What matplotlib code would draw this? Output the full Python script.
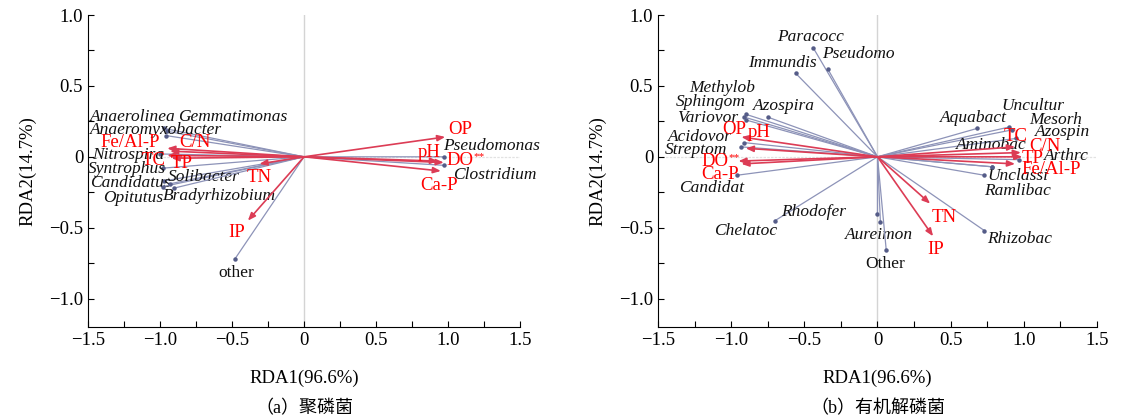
import matplotlib
matplotlib.use("Agg")
import matplotlib.pyplot as plt
from matplotlib.ticker import MultipleLocator

# ---------------- data: panel (a) ----------------
a_sp_names = ["Anaerolinea", "Gemmatimonas", "Anaeromyxobacter", "Nitrospira", "Syntrophus",
              "Candidatus", "Opitutus", "Solibacter", "Bradyrhizobium", "Pseudomonas",
              "Clostridium", "other"]
a_sp_x = [-0.97, -0.95, -0.96, -1.00, -0.98, -0.97, -0.98, -0.93, -0.90, 0.97, 0.97, -0.48]
a_sp_y = [0.20, 0.18, 0.15, 0.02, -0.08, -0.17, -0.21, -0.19, -0.22, 0.00, -0.06, -0.72]
a_sp_lx = [-1.486, -0.875, -1.486, -1.472, -1.50, -1.486, -1.396, -0.944, -0.98, 0.965, 1.035, -0.597]
a_sp_ly = [0.284, 0.284, 0.186, 0.010, -0.088, -0.186, -0.291, -0.144, -0.277, 0.074, -0.130, -0.820]

a_env_names = ["OP", "pH", "DO", "Ca-P", "Fe/Al-P", "C/N", "TC", "TP", "TN", "IP"]
a_env_x = [0.98, 0.93, 0.97, 0.95, -0.95, -0.93, -0.95, -0.92, -0.31, -0.39]
a_env_y = [0.14, -0.03, -0.04, -0.10, 0.06, 0.04, 0.01, -0.01, -0.05, -0.45]
a_env_lx = [1.00, 0.79, 0.99, 0.806, -1.417, -0.868, -1.13, -0.93, -0.396, -0.528]
a_env_ly = [0.193, 0.030, -0.025, -0.200, 0.102, 0.102, -0.025, -0.046, -0.144, -0.535]

# ---------------- data: panel (b) ----------------
b_sp_names = ["Paracocc", "Pseudomo", "Immundis", "Methylob", "Sphingom", "Azospira", "Variovor",
              "Acidovor", "Streptom", "Candidat", "Chelatoc", "Rhodofer", "Aureimon", "Other",
              "Rhizobac", "Aquabact", "Uncultur", "Mesorh", "Azospin", "Aminobac", "Arthrc",
              "Unclassi", "Ramlibac"]
b_sp_x = [-0.44, -0.34, -0.56, -0.90, -0.91, -0.75, -0.90, -0.91, -0.93, -0.96, -0.70, 0.00,
          0.02, 0.06, 0.73, 0.68, 0.90, 0.92, 0.95, 0.78, 0.97, 0.73, 0.78]
b_sp_y = [0.77, 0.62, 0.59, 0.30, 0.28, 0.28, 0.26, 0.10, 0.07, -0.13, -0.45, -0.40,
          -0.46, -0.66, -0.52, 0.20, 0.21, 0.19, 0.13, -0.07, -0.02, -0.13, -0.07]
b_sp_lx = [-0.683, -0.376, -0.882, -1.285, -1.38, -0.854, -1.367, -1.435, -1.456, -1.353, -1.114,
           -0.656, -0.219, -0.082, 0.752, 0.424, 0.848, 1.039, 1.073, 0.533, 1.141, 0.752, 0.731]
b_sp_ly = [0.846, 0.726, 0.663, 0.488, 0.389, 0.361, 0.277, 0.137, 0.046, -0.221, -0.523,
           -0.390, -0.551, -0.755, -0.579, 0.277, 0.361, 0.263, 0.172, 0.081, 0.004, -0.137, -0.242]

b_env_names = ["OP", "pH", "DO", "Ca-P", "TN", "IP", "TC", "C/N", "TP", "Fe/Al-P"]
b_env_x = [-0.93, -0.90, -0.95, -0.93, 0.36, 0.38, 0.94, 0.98, 0.99, 0.94]
b_env_y = [0.14, 0.06, -0.03, -0.05, -0.33, -0.56, 0.07, 0.03, 0.00, -0.05]
b_env_lx = [-1.06, -0.889, -1.203, -1.203, 0.369, 0.342, 0.861, 1.039, 0.984, 0.984]
b_env_ly = [0.193, 0.172, -0.032, -0.123, -0.425, -0.655, 0.144, 0.074, -0.011, -0.088]

xticks = [-1.5, -1.0, -0.5, 0, 0.5, 1.0, 1.5]
xtick_labels = ["\u22121.5", "\u22121.0", "\u22120.5", "0", "0.5", "1.0", "1.5"]
yticks = [-1.0, -0.5, 0, 0.5, 1.0]
ytick_labels = ["\u22121.0", "\u22120.5", "0", "0.5", "1.0"]
xlabel = "RDA1(96.6%)"
ylabel = "RDA2(14.7%)"
captions = ["（a）聚磷菌", "（b）有机解磷菌"]

SERIF = ["Liberation Serif", "DejaVu Serif"]
plt.rcParams["font.family"] = SERIF

fig = plt.figure(figsize=(11.39, 4.19), dpi=100)
axA = fig.add_axes([0.0773, 0.2196, 0.3793, 0.7446])
axB = fig.add_axes([0.5777, 0.2196, 0.3854, 0.7446])

SP_COLOR = "#8d93b8"
SP_HEAD = "#555c88"
ENV_COLOR = "#dc3c55"
SP_FS = 12.5
ENV_FS = 13.5
TICK_FS = 13.5


def draw(ax, spn, spx, spy, splx, sply, en, ex, ey, elx, ely):
    ax.set_xlim(-1.5, 1.5)
    ax.set_ylim(-1.2, 1.0)
    ax.axvline(0, color="#d4d4d4", lw=1.0, zorder=0)
    ax.axhline(0, color="#e2e2e2", lw=0.9, ls=(0, (2, 1)), zorder=0)
    for n, x, y, lx, ly in zip(spn, spx, spy, splx, sply):
        ax.annotate("", xy=(x, y), xytext=(0, 0),
                    arrowprops=dict(arrowstyle="-", color=SP_COLOR, lw=0.9,
                                    shrinkA=0, shrinkB=0))
        ax.plot([x], [y], marker="o", ms=2.2, color=SP_HEAD, zorder=3)
        style = "normal" if n.lower() == "other" else "italic"
        ax.text(lx, ly, n, fontsize=SP_FS, style=style, color="#111111",
                ha="left", va="center")
    for n, x, y, lx, ly in zip(en, ex, ey, elx, ely):
        ax.annotate("", xy=(x, y), xytext=(0, 0),
                    arrowprops=dict(arrowstyle="-|>,head_length=0.45,head_width=0.18",
                                    color=ENV_COLOR, lw=1.2, shrinkA=0, shrinkB=0))
        ax.text(lx, ly, n, fontsize=ENV_FS, color="#ff0000", ha="left", va="center")
        if n == "DO":
            ax.annotate("**", xy=(lx, ly), xytext=(1.45 * ENV_FS, 3), textcoords="offset points",
                        fontsize=8, color="#ff0000", ha="left", va="center")
    for s in ["top", "right"]:
        ax.spines[s].set_visible(False)
    ax.set_xticks(xticks)
    ax.set_xticklabels(xtick_labels)
    ax.set_yticks(yticks)
    ax.set_yticklabels(ytick_labels)
    ax.xaxis.set_minor_locator(MultipleLocator(0.25))
    ax.yaxis.set_minor_locator(MultipleLocator(0.25))
    ax.tick_params(which="both", direction="in", length=4, width=0.8, labelsize=TICK_FS)
    ax.set_xlabel(xlabel, fontsize=TICK_FS, labelpad=15)
    ax.set_ylabel(ylabel, fontsize=TICK_FS, labelpad=9)


draw(axA, a_sp_names, a_sp_x, a_sp_y, a_sp_lx, a_sp_ly,
     a_env_names, a_env_x, a_env_y, a_env_lx, a_env_ly)
draw(axB, b_sp_names, b_sp_x, b_sp_y, b_sp_lx, b_sp_ly,
     b_env_names, b_env_x, b_env_y, b_env_lx, b_env_ly)

for cx, cap in zip([304, 878], captions):
    fig.text(cx / 1139, 1 - 409 / 419, cap, ha="center", va="center", fontsize=13,
             family=["Liberation Serif", "Noto Sans CJK SC"])

fig.savefig("out.png", dpi=100)
